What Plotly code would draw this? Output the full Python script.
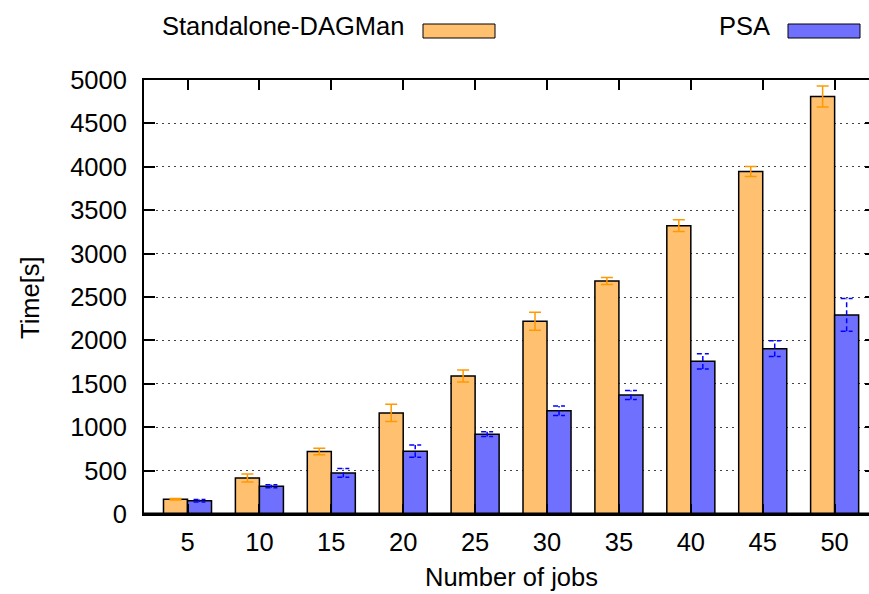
import plotly.graph_objects as go

jobs = [5, 10, 15, 20, 25, 30, 35, 40, 45, 50]
standalone = [170, 415, 720, 1165, 1590, 2220, 2685, 3322, 3945, 4810]
standalone_err = [10, 45, 38, 98, 69, 104, 40, 68, 58, 120]
psa = [152, 320, 473, 724, 920, 1189, 1370, 1759, 1905, 2294]
psa_err = [15, 18, 50, 71, 28, 55, 52, 88, 90, 190]
y_ticks = [0, 500, 1000, 1500, 2000, 2500, 3000, 3500, 4000, 4500, 5000]

ORANGE = "#FFC070"
BLUE = "#7070FF"
FONT = "Liberation Sans, Arial, sans-serif"
FS = 25.5

BARGAP = 0.332
step = jobs[1] - jobs[0]
half_bar = (1 - BARGAP) / 2 * step
cap = 0.083 * step

fig = go.Figure()
fig.add_trace(go.Bar(
    x=jobs, y=standalone, name="Standalone-DAGMan",
    marker=dict(color=ORANGE, line=dict(color="black", width=1.5)),
    error_y=dict(type="data", array=standalone_err, color="#FF9900", thickness=1.5, width=6),
))
fig.add_trace(go.Bar(
    x=jobs, y=psa, name="PSA",
    marker=dict(color=BLUE, line=dict(color="black", width=1.5)),
))

# dashed error bars for PSA (centre of the second bar of each group)
ex, ey = [], []
for j, v, e in zip(jobs, psa, psa_err):
    c = j + half_bar / 2
    ex += [c, c, None, c - cap, c + cap, None, c - cap, c + cap, None]
    ey += [v - e, v + e, None, v - e, v - e, None, v + e, v + e, None]
fig.add_trace(go.Scatter(
    x=ex, y=ey, mode="lines", line=dict(color="#0000FF", width=1.5, dash="5px,3px"),
    hoverinfo="skip", showlegend=False,
))
# invisible trace for the right-hand mirror axis
fig.add_trace(go.Scatter(x=[jobs[0]], y=[0], yaxis="y2", mode="markers",
                         marker=dict(opacity=0), hoverinfo="skip", showlegend=False))

# legend drawn by hand (text left of swatch)
PL, PR, PT, PB = 144, 869, 80, 514
W, H = PR - PL, PB - PT
def px(x):
    return (x - PL) / W
def py(y):
    return (PB - y) / H

legend = [("Standalone-DAGMan", ORANGE, 406, 423, 495), ("PSA", BLUE, 772, 788, 860)]
for name, col, tx, bx0, bx1 in legend:
    fig.add_annotation(text=name, x=px(tx), y=py(26), xref="paper", yref="paper",
                       xanchor="right", yanchor="middle", showarrow=False,
                       font=dict(family=FONT, size=FS, color="black"))
    fig.add_shape(type="rect", xref="paper", yref="paper",
                  x0=px(bx0), x1=px(bx1), y0=py(38), y1=py(24),
                  fillcolor=col, line=dict(color="black", width=1))

fig.add_annotation(text="Time[s]", x=px(30), y=py(298), xref="paper", yref="paper",
                   textangle=-90, showarrow=False, xanchor="center", yanchor="middle",
                   font=dict(family=FONT, size=FS, color="black"))
fig.add_annotation(text="Number of jobs", x=px(511), y=py(577), xref="paper", yref="paper",
                   showarrow=False, xanchor="center", yanchor="middle",
                   font=dict(family=FONT, size=FS, color="black"))
# heavier bottom border, as in the reference
fig.add_shape(type="line", xref="paper", yref="paper", x0=0, x1=1, y0=0, y1=0,
              line=dict(color="black", width=3), layer="above")

fig.update_layout(
    width=869, height=594,
    margin=dict(l=PL, r=0, t=PT, b=594 - PB, pad=0),
    paper_bgcolor="white", plot_bgcolor="white",
    barmode="group", bargap=BARGAP, bargroupgap=0,
    showlegend=False,
    font=dict(family=FONT, size=FS, color="black"),
    xaxis=dict(
        range=[1.975, 52.39], tickvals=jobs, ticktext=[str(j) for j in jobs],
        showline=True, linecolor="black", linewidth=2, mirror="ticks",
        ticks="inside", ticklen=10, tickwidth=1.5, tickcolor="black",
        showgrid=False, zeroline=False, ticklabelstandoff=4,
    ),
    yaxis=dict(
        range=[0, 5000], tickvals=y_ticks,
        showline=True, linecolor="black", linewidth=2, mirror=False,
        ticks="inside", ticklen=11, tickwidth=1.5, tickcolor="black",
        showgrid=True, gridcolor="#444", gridwidth=1, griddash="2px,4px",
        zeroline=False, ticklabelstandoff=10,
    ),
    yaxis2=dict(
        range=[0, 5000], overlaying="y", side="right", tickvals=y_ticks,
        showticklabels=False, showline=False, showgrid=False, zeroline=False,
        ticks="inside", ticklen=4, tickwidth=1.5, tickcolor="black",
    ),
)

fig.write_html("out.html")
